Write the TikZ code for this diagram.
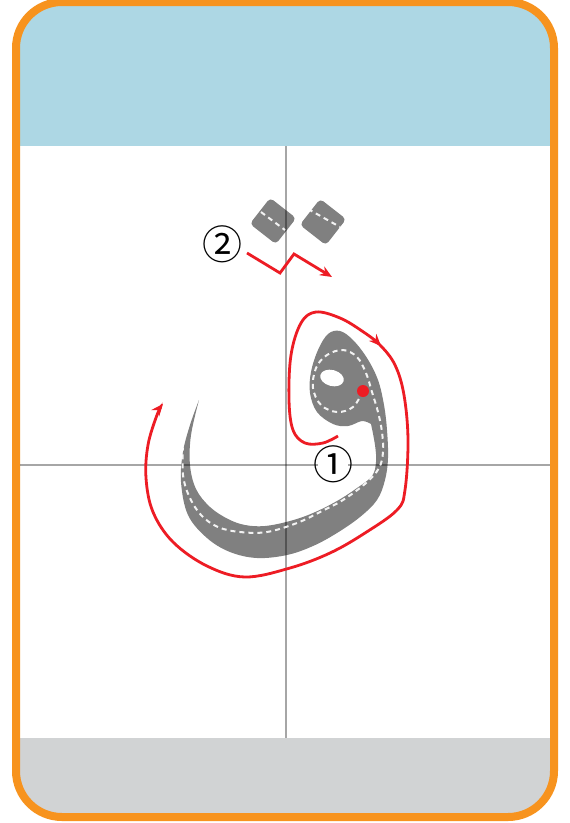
\documentclass[tikz,border=0pt]{standalone}
\usepackage{fontspec}
\newfontfamily\circfont{Noto Sans CJK SC}
\usetikzlibrary{arrows.meta,decorations.markings}
\definecolor{framebrd}{HTML}{F7931E}
\definecolor{topband}{HTML}{ADD7E4}
\definecolor{botband}{HTML}{D1D3D4}
\definecolor{inkgray}{HTML}{808080}
\definecolor{pathred}{HTML}{ED1C24}

\begin{document}
\begin{tikzpicture}[
  x=1pt, y=-1pt,
  >={Stealth[length=12pt, width=10pt]},
  guideline/.style={draw=black, opacity=0.35, line width=1.5pt},
  inkfill/.style={fill=inkgray},
  nuqta/.style={fill=inkgray, rectangle, rounded corners=4pt, minimum size=33pt, inner sep=0pt},
  midline/.style={draw=white, opacity=0.9, line width=2pt, dash pattern=on 5pt off 4pt},
  redpath/.style={draw=pathred, line width=2.8pt},
  stepnum/.style={font=\circfont\fontsize{40}{40}\selectfont, inner sep=0pt}
]
\useasboundingbox (0,0) rectangle (570,823);
% card background
\begin{scope}
  \clip[rounded corners=46pt] (16,2) rectangle (554,817);
  \fill[white] (0,0) rectangle (570,823);
  \fill[topband] (0,0) rectangle (570,146);
  \fill[botband] (0,738) rectangle (570,823);
\end{scope}
\draw[framebrd, line width=8pt, rounded corners=46pt] (16,2) rectangle (554,817);

% letter body
\fill[inkfill] plot[smooth, tension=0.6] coordinates {(199,400) (190,425) (183,452) (181,482) (188,515) (207,538) (230,552) (257,558) (287,555) (313,546) (337,533) (360,517) (377,500) (385,480) (388,458) (387,430) (384,405) (378,380) (367,358) (353,340) (340,331) (328,334) (318,350) (311,372) (310,393) (317,412) (333,424) (348,426) (362,421) (371,424)}
  -- plot[smooth, tension=0.6] coordinates {(371,424) (375,445) (376,462) (372,476) (357,488) (337,501) (313,513) (290,521) (265,526) (245,525) (228,519) (210,507) (196,489) (190,465) (191,435) (199,400)} -- cycle;
\fill[white, rotate around={-15:(332,378)}] (332,378) ellipse (12 and 8);

% dots
\node[nuqta, rotate=-38] (dotA) at (273,221) {};
\node[nuqta, rotate=-38] (dotB) at (323,222) {};

% guides
\draw[guideline] (20,465) -- (550,465);
\draw[guideline] (286,146) -- (286,738);

% stroke centre lines
\draw[midline] plot[smooth, tension=0.6] coordinates {(363,391) (353,407) (337,412) (321,405) (313,388) (316,368) (327,355) (343,350) (357,357) (366,373) (372,392) (378,412) (382,432) (383,452) (379,468) (366,483) (343,500) (320,512) (297,523) (267,532) (240,532) (218,527) (201,515) (189,496) (183,475) (183,448)};
\draw[midline] ([shift={(-12,-9)}]dotA.center) -- ([shift={(12,9)}]dotA.center);
\draw[midline] ([shift={(-15,-13)}]dotB.center) -- ([shift={(17,5)}]dotB.center);

% start point
\fill[pathred] (363,391) circle (6);

% direction arrows
\draw[redpath, ->, decoration={markings, mark=at position 0.31 with {\arrow{Stealth[length=12pt, width=10pt]}}}, postaction={decorate}]
  plot[smooth, tension=0.6] coordinates {(338,436) (323,443) (305,443) (293,430) (289,400) (291,355) (301,323) (316,312) (340,318) (362,331) (380,345) (395,365) (404,395) (408,440) (405,490) (397,510) (365,533) (330,553) (290,568) (245,577) (207,566) (173,542) (153,512) (146,478) (148,445) (157,415) (163,404)};
\draw[redpath, ->] (247,253) -- (280,273) -- (294,254) -- (332,277);

% step numbers
\fill[white] (333,464) circle (15);
\node[stepnum] (one) at (333,464) {①};
\node[stepnum] (two) at (222,244) {②};
\end{tikzpicture}
\end{document}
